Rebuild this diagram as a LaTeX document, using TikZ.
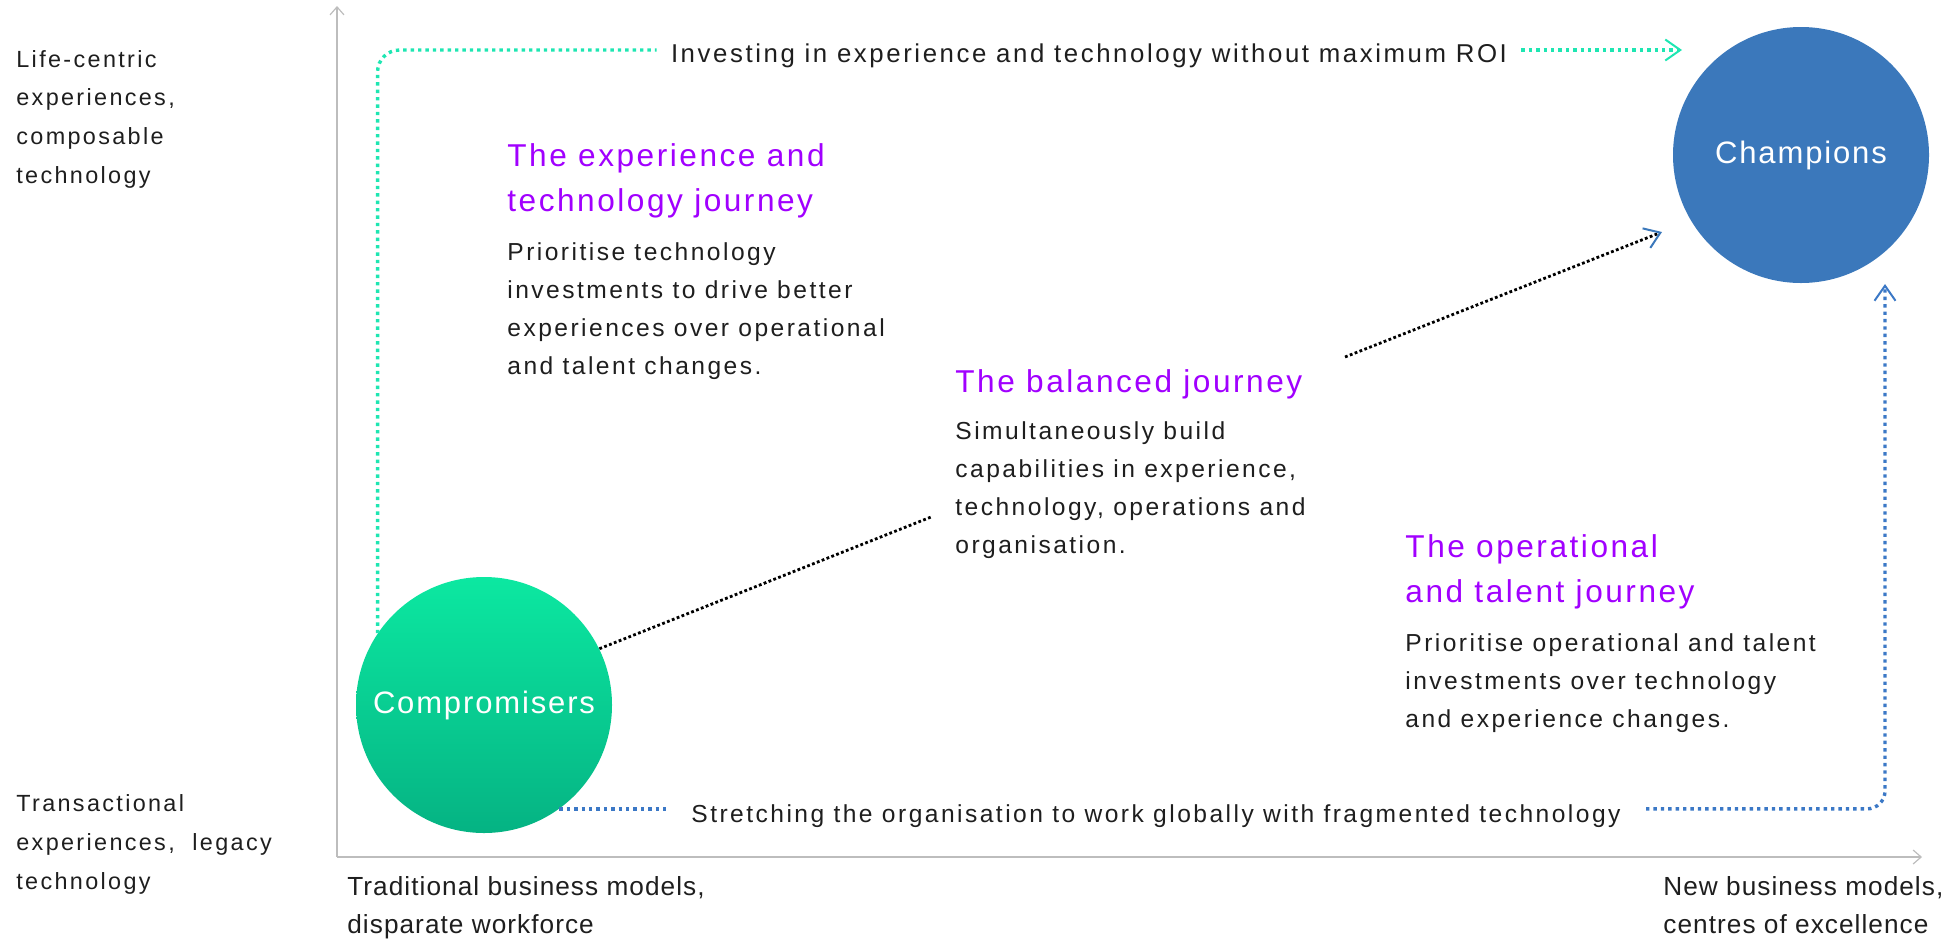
\documentclass[tikz,border=0pt]{standalone}
\usepackage{fontspec}
\setmainfont{Liberation Sans}
\newfontfamily\bodyfont{Liberation Sans}[LetterSpace=10]
\newfontfamily\headfont{Liberation Sans}[LetterSpace=8]
\newfontfamily\circfont{Liberation Sans}[LetterSpace=6]
\newfontfamily\axisfont{Liberation Sans}[LetterSpace=4]
\usetikzlibrary{arrows.meta}

\definecolor{accpurple}{HTML}{A100FF}
\definecolor{champblue}{HTML}{3B78BB}
\definecolor{compTop}{HTML}{0CE8A1}
\definecolor{compBottom}{HTML}{05B383}
\definecolor{tealline}{HTML}{1EE6B2}
\definecolor{blueline}{HTML}{3B78C6}
\definecolor{axisgray}{HTML}{BDBDBD}
\definecolor{inkgray}{HTML}{1E1E1E}

\tikzstyle{axis}=[axisgray,line width=0.9pt,-{Straight Barb[length=4pt,width=7pt,line width=0.6pt]}]
\tikzstyle{tealpath}=[tealline,line width=1.7pt,dash pattern=on 1.7pt off 2pt,rounded corners=11pt]
\tikzstyle{bluepath}=[blueline,line width=1.7pt,dash pattern=on 1.7pt off 2pt,rounded corners=9pt]
\tikzstyle{blackpath}=[black,line width=1.4pt,dash pattern=on 1.4pt off 1.2pt]
\tikzstyle{barb}=[-{Straight Barb[length=7.5pt,width=10.5pt,line width=1pt]}]
\tikzstyle{bluebarb}=[-{Straight Barb[length=7.5pt,width=10.5pt,line width=1pt,color=champblue]}]
\tikzstyle{player}=[circle,minimum size=128pt,inner sep=0pt,text=white,font=\circfont\fontsize{15.5}{18}\selectfont]
% multi-line nodes sit on the baseline of their last line
\tikzstyle{sidelabel}=[font=\bodyfont\fontsize{11.7}{19.3}\selectfont,text=inkgray,align=left,inner sep=0pt,anchor=base west]
\tikzstyle{axislabel}=[font=\axisfont\fontsize{13.1}{19}\selectfont,text=inkgray,align=left,inner sep=0pt,anchor=base west]
\tikzstyle{journeyhead}=[font=\headfont\fontsize{15.8}{22.5}\selectfont,text=accpurple,align=left,inner sep=0pt,anchor=base west]
\tikzstyle{journeybody}=[font=\bodyfont\fontsize{12.3}{19}\selectfont,text=inkgray,align=left,inner sep=0pt,anchor=base west]
\tikzstyle{pathlabel}=[font=\bodyfont\fontsize{12.3}{19}\selectfont,text=inkgray,inner ysep=0pt,anchor=base]

\begin{document}
\begin{tikzpicture}[x=0.5pt,y=-0.5pt]  % pixel grid, y going down
\useasboundingbox (0,0) rectangle (1959,938);

% axes
\coordinate (origin) at (337,857);
\coordinate (ytop) at (337,6);
\coordinate (xend) at (1922,857);
\draw[axis] (origin) -- (ytop);
\draw[axis] (origin) -- (xend);

\node[sidelabel] (toplabel) at (16,183) {Life-centric\\experiences,\\composable\\technology};
\node[sidelabel] (bottomlabel) at (16,889) {Transactional\\experiences,\ \ legacy\\technology};
\node[axislabel] (leftlabel) at (347,933) {Traditional business models,\\disparate workforce};
\node[axislabel] (rightlabel) at (1663,933) {New business models,\\centres of excellence};

\node[player,fill=champblue] (champ) at (1801,155) {Champions};
\node[player,top color=compTop,bottom color=compBottom] (comp) at (484,705) {Compromisers};

\node[journeyhead] (exphead) at (507,211) {The experience and\\technology journey};
\node[journeybody] (expbody) at (507,374) {Prioritise technology\\investments to drive better\\experiences over operational\\and talent changes.};
\node[journeyhead] (balhead) at (955,392) {The balanced journey};
\node[journeybody] (balbody) at (955,553) {Simultaneously build\\capabilities in experience,\\technology, operations and\\organisation.};
\node[journeyhead] (ophead) at (1405,602) {The operational\\and talent journey};
\node[journeybody] (opbody) at (1405,727) {Prioritise operational and talent\\investments over technology\\and experience changes.};

\node[pathlabel,font=\bodyfont\fontsize{12.9}{19}\selectfont,inner xsep=7pt] (invest) at (1089,62) {Investing in experience and technology without maximum ROI};
\node[pathlabel,inner xsep=12.5pt] (stretch) at (1156,822) {Stretching the organisation to work globally with fragmented technology};

\coordinate (investtip) at (1682,50);
\coordinate (stretchtip) at (1885,284);
\coordinate (balgapA) at (931,517);
\coordinate (balgapB) at (1345,357);
\coordinate (baltip) at (1662,232);

\draw[tealpath] (comp.146) |- (invest.west |- investtip);
\draw[tealpath,barb] (invest.east |- investtip) -- (investtip);
\draw[bluepath] (comp.-54) -- (comp.-54 -| stretch.west);
\draw[bluepath,barb] (stretch.east |- comp.-54) -| (stretchtip);
\draw[blackpath] (comp.26) -- (balgapA);
\draw[blackpath,bluebarb] (balgapB) -- (baltip);  % broken round the text
\end{tikzpicture}
\end{document}
